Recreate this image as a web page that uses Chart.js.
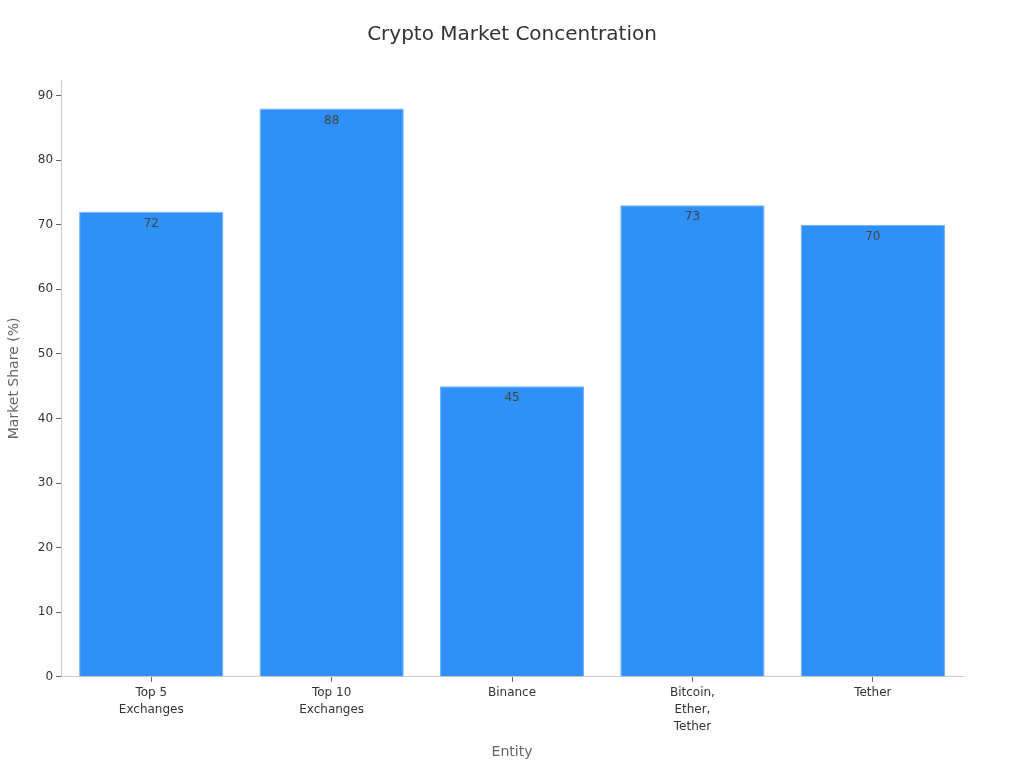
<!DOCTYPE html>
<html>
<head>
<meta charset="utf-8">
<script src="https://cdn.jsdelivr.net/npm/chart.js@4.4.0/dist/chart.umd.min.js"></script>
<style>
    html, body { margin: 0; padding: 0; background: #fff; }
    #wrap { width: 1024px; height: 768px; }
</style>
</head>
<body>
<div id="wrap"><canvas id="concentrationChart"></canvas></div>
<script>
// ===== DATA =====
const chartTitle = 'Crypto Market Concentration';
const entities = [
    ['Top 5', 'Exchanges'],
    ['Top 10', 'Exchanges'],
    'Binance',
    ['Bitcoin,', 'Ether,', 'Tether'],
    'Tether'
];
const marketShare = [72, 88, 45, 73, 70];
const yTicks = [0, 10, 20, 30, 40, 50, 60, 70, 80, 90];

// title centred on the whole canvas (built-in title centres on the padded box)
const canvasTitle = {
    id: 'canvasTitle',
    afterDraw(chart) {
        const ctx = chart.ctx;
        ctx.save();
        ctx.font = '20px "DejaVu Sans", sans-serif';
        ctx.fillStyle = '#333';
        ctx.textAlign = 'center';
        ctx.textBaseline = 'middle';
        ctx.fillText(chartTitle, chart.width / 2, 35);
        ctx.restore();
    }
};

// value labels just inside the top of each bar
const barValueLabels = {
    id: 'barValueLabels',
    afterDatasetsDraw(chart) {
        const ctx = chart.ctx;
        const meta = chart.getDatasetMeta(0);
        ctx.save();
        ctx.font = '12px "DejaVu Sans", sans-serif';
        ctx.fillStyle = '#444';
        ctx.textAlign = 'center';
        ctx.textBaseline = 'top';
        meta.data.forEach(function(bar, i) {
            ctx.fillText(String(marketShare[i]), bar.x, bar.y + 6);
        });
        ctx.restore();
    }
};

Chart.defaults.font.family = '"DejaVu Sans", sans-serif';

new Chart(document.getElementById('concentrationChart'), {
    type: 'bar',
    data: {
        labels: entities,
        datasets: [{
            label: 'Market Share (%)',
            data: marketShare,
            backgroundColor: '#2f91f7',
            borderColor: '#6ab0fa',
            borderWidth: 1,
            barPercentage: 0.8,
            categoryPercentage: 1.0
        }]
    },
    options: {
        responsive: true,
        maintainAspectRatio: false,
        animation: false,
        layout: {
            padding: { left: 2, right: 61, top: 80, bottom: 3 }
        },
        plugins: {
            legend: { display: false },
            tooltip: { enabled: false },
            title: { display: false }
        },
        scales: {
            x: {
                grid: {
                    display: true,
                    drawOnChartArea: false,
                    drawTicks: true,
                    tickLength: 5,
                    offset: false,
                    color: '#666'
                },
                border: { display: true, color: '#ccc' },
                ticks: {
                    color: '#333',
                    font: { size: 12, lineHeight: 1.4 },
                    maxRotation: 0,
                    padding: 3
                },
                title: {
                    display: true,
                    text: 'Entity',
                    color: '#666',
                    font: { size: 14 },
                    padding: { top: 6 }
                }
            },
            y: {
                min: 0,
                max: 92.4,
                afterBuildTicks: function(axis) {
                    axis.ticks = yTicks.map(function(v) { return { value: v }; });
                },
                grid: {
                    display: true,
                    drawOnChartArea: false,
                    drawTicks: true,
                    tickLength: 5,
                    color: '#666'
                },
                border: { display: true, color: '#ccc' },
                ticks: {
                    color: '#333',
                    font: { size: 12 },
                    padding: 3
                },
                title: {
                    display: true,
                    text: 'Market Share (%)',
                    color: '#666',
                    font: { size: 14 },
                    padding: { bottom: 12 }
                }
            }
        }
    },
    plugins: [barValueLabels, canvasTitle]
});
</script>
</body>
</html>
